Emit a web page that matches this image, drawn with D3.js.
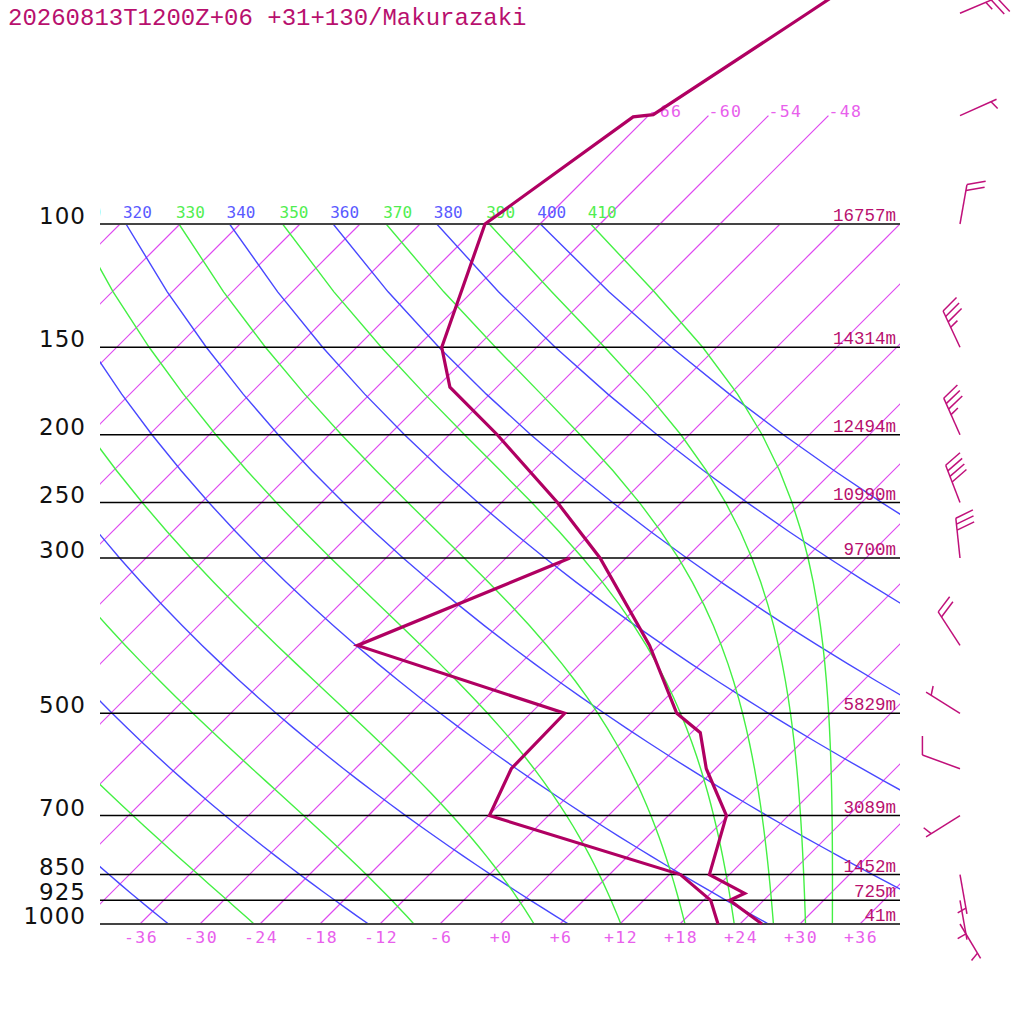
<!DOCTYPE html>
<html>
<head>
<meta charset="utf-8">
<script src="https://cdn.jsdelivr.net/npm/d3@7"></script>
<style>
body { margin: 0; background: #fff; }
svg { display: block; }
</style>
</head>
<body>
<svg id="chart" width="1024" height="1024"></svg>
<script>
var title = "20260813T1200Z+06 +31+130/Makurazaki";

// standard levels with their heights
var pressureLevels = [100, 150, 200, 250, 300, 500, 700, 850, 925, 1000];
var heightLabels = ["16757m", "14314m", "12494m", "10990m", "9700m", "5829m", "3089m", "1452m", "725m", "41m"];

// background lines
var isotherms = [-108, -102, -96, -90, -84, -78, -72, -66, -60, -54, -48, -42, -36, -30, -24, -18, -12, -6, 0, 6, 12, 18, 24, 30, 36];
var upperIsotherms = [-66, -60, -54, -48];
var bottomTicks = [-36, -30, -24, -18, -12, -6, 0, 6, 12, 18, 24, 30, 36];
var dryAdiabats = [240, 260, 280, 300, 320, 340, 360, 380, 400];
var moistAdiabats = [250, 270, 290, 310, 330, 350, 370, 390, 410];

// temperature sounding
var tempPressure = [1000, 925, 904, 850, 700, 600, 533, 500, 400, 300, 250, 200, 171, 150, 100, 70.3, 69.8, 50, 43];
var tempValues = [26.2, 20.6, 21.4, 16.0, 11.8, 5.1, 0.9, -3.4, -12.9, -26.6, -36.4, -49.2, -58.7, -63.5, -71.5, -67.4, -65.6, -60.3, -58.0];

// dew point sounding
var dewPressure = [1000, 925, 850, 700, 600, 500, 400, 300];
var dewValues = [21.8, 18.7, 13.1, -11.9, -14.4, -14.6, -42.1, -29.6];

// winds (direction in degrees, speed in knots)
var windPressure = [50, 70, 100, 150, 200, 250, 300, 400, 500, 600, 700, 850, 925, 1000];
var windDir = [67, 66, 10, 335, 336, 339, 354, 327, 302, 290, 238, 170, 170, 149];
var windSpeed = [25, 5, 20, 35, 35, 40, 30, 20, 5, 10, 5, 5, 5, 5];

var isoColor = "rgb(222,72,240)";
var isoLabelColor = "rgb(232,96,236)";

var svg = d3.select("#chart");

var y = d3.scaleLog().domain([1000, 100]).range([924, 224]);
var x = d3.scaleLinear().domain([-40, 40]).range([100, 900]);

function skewX(t, p) {
    return x(t) + (y(1000) - y(p));
}

var linePath = d3.line()
    .x(function (d) { return skewX(d.t, d.p); })
    .y(function (d) { return y(d.p); });

// pressure steps used for drawing the curved lines
var steps = d3.range(1000, 99, -25);

function dryT(theta, p) {
    return theta * Math.pow(p / 1000, 0.2857) - 273.15;
}

function thetaESat(tk, p) {
    var tc = tk - 273.15;
    var es = 6.112 * Math.exp(17.67 * tc / (tc + 243.5));
    var r = 622 * es / (p - es);
    return tk * Math.pow(1000 / p, 0.2854 * (1 - 0.00028 * r)) *
        Math.exp((3.376 / tk - 0.00254) * r * (1 + 0.00081 * r));
}

function moistT(thetaE, p) {
    var lo = 120, hi = 340;
    for (var i = 0; i < 50; i++) {
        var mid = (lo + hi) / 2;
        if (thetaESat(mid, p) > thetaE) hi = mid; else lo = mid;
    }
    return (lo + hi) / 2 - 273.15;
}

var defs = svg.append("defs");
defs.append("clipPath").attr("id", "plot")
    .append("rect").attr("x", 100).attr("y", 224).attr("width", 800).attr("height", 700);
defs.append("clipPath").attr("id", "labels")
    .append("rect").attr("x", 100).attr("y", 0).attr("width", 800).attr("height", 924);

var grid = svg.append("g").attr("clip-path", "url(#plot)");

// isotherms, drawn as plain lines
grid.selectAll("line.isotherm")
    .data(isotherms)
    .enter().append("line")
    .attr("class", "isotherm")
    .attr("x1", function (t) { return skewX(t, 1000); })
    .attr("y1", y(1000))
    .attr("x2", function (t) { return skewX(t, 100); })
    .attr("y2", y(100))
    .style("stroke", isoColor)
    .style("stroke-width", 1.2);

// dry adiabats
grid.selectAll("path.dry")
    .data(dryAdiabats)
    .enter().append("path")
    .attr("class", "dry")
    .attr("fill", "none")
    .attr("stroke", "#4848ff")
    .attr("stroke-width", 1.4)
    .attr("d", function (th) {
        return linePath(steps.map(function (p) { return { t: dryT(th, p), p: p }; }));
    });

// moist adiabats
grid.selectAll("path.moist")
    .data(moistAdiabats)
    .enter().append("path")
    .attr("class", "moist")
    .attr("fill", "none")
    .attr("stroke", "#44f044")
    .attr("stroke-width", 1.4)
    .attr("d", function (th) {
        return linePath(steps.map(function (p) { return { t: moistT(th, p), p: p }; }));
    });

// isotherms continued above 100 hPa
svg.append("g").selectAll("line")
    .data(upperIsotherms)
    .enter().append("line")
    .attr("x1", function (t) { return skewX(t, 100); })
    .attr("y1", y(100))
    .attr("x2", function (t) { return skewX(t, 70); })
    .attr("y2", y(70))
    .style("stroke", isoColor)
    .style("stroke-width", 1.2);

svg.append("g").selectAll("text")
    .data(upperIsotherms)
    .enter().append("text")
    .attr("x", function (t) { return skewX(t, 70); })
    .attr("y", y(70) + 1)
    .attr("font-family", "DejaVu Sans Mono")
    .attr("font-size", 16.5)
    .attr("letter-spacing", 1.4)
    .attr("fill", isoLabelColor)
    .text(function (t) { return t < 0 ? "-" + Math.abs(t) : "+" + t; });

// pressure lines
svg.append("g").selectAll("line")
    .data(pressureLevels)
    .enter().append("line")
    .attr("x1", 100).attr("x2", 900)
    .attr("y1", function (p) { return y(p); })
    .attr("y2", function (p) { return y(p); })
    .attr("stroke", function (p) { return p == 100 || p == 1000 ? "#444" : "#000"; })
    .attr("stroke-width", function (p) { return p == 100 || p == 1000 ? 2 : 1.5; });

// adiabat labels at 100 hPa (only those reaching into the frame)
var thetaLabels = dryAdiabats.map(function (th) { return { th: th, t: dryT(th, 100), c: "#5a5aff" }; })
    .concat(moistAdiabats.map(function (th) { return { th: th, t: moistT(th, 100), c: "#50ee50" }; }))
    .filter(function (d) { return skewX(d.t, 100) > 60; });

svg.append("g").attr("clip-path", "url(#labels)")
    .selectAll("text")
    .data(thetaLabels)
    .enter().append("text")
    .attr("x", function (d) { return skewX(d.t, 100) - 3; })
    .attr("y", y(100) - 6)
    .attr("font-family", "DejaVu Sans Mono")
    .attr("font-size", 16)
    .attr("fill", function (d) { return d.c; })
    .text(function (d) { return d.th; });

// pressure labels
svg.append("g").selectAll("text")
    .data(pressureLevels)
    .enter().append("text")
    .attr("x", 86)
    .attr("y", function (p) { return y(p); })
    .attr("text-anchor", "end")
    .attr("font-family", "DejaVu Sans")
    .attr("font-size", 23)
    .attr("letter-spacing", 1)
    .attr("fill", "#111")
    .text(function (p) { return p; });

// height labels
svg.append("g").selectAll("text")
    .data(pressureLevels)
    .enter().append("text")
    .attr("x", 896)
    .attr("y", function (p) { return y(p) - 3; })
    .attr("text-anchor", "end")
    .attr("font-family", "Liberation Mono")
    .attr("font-size", 17.5)
    .attr("fill", "#b8106e")
    .text(function (p, i) { return heightLabels[i]; });

// temperature tick labels
svg.append("g").selectAll("text")
    .data(bottomTicks)
    .enter().append("text")
    .attr("x", function (t) { return x(t) + 1; })
    .attr("y", 943)
    .attr("text-anchor", "middle")
    .attr("font-family", "DejaVu Sans Mono")
    .attr("font-size", 16.5)
    .attr("letter-spacing", 1.4)
    .attr("fill", isoLabelColor)
    .text(function (t) { return t < 0 ? "-" + Math.abs(t) : "+" + t; });

// soundings
var tempData = tempPressure.map(function (p, i) { return { p: p, t: tempValues[i] }; });
var dewData = dewPressure.map(function (p, i) { return { p: p, t: dewValues[i] }; });

svg.append("path")
    .datum(dewData)
    .attr("fill", "none")
    .attr("stroke", "#b00062")
    .attr("stroke-width", 3.2)
    .attr("d", linePath);

svg.append("path")
    .datum(tempData)
    .attr("fill", "none")
    .attr("stroke", "#b00062")
    .attr("stroke-width", 3.2)
    .attr("d", linePath);

// wind barbs
function barbLines(cx, cy, dir, spd) {
    var rad = dir * Math.PI / 180;
    var ux = Math.sin(rad), uy = -Math.cos(rad);
    var a = 70 * Math.PI / 180;
    var bx = ux * Math.cos(a) - uy * Math.sin(a);
    var by = ux * Math.sin(a) + uy * Math.cos(a);
    var staff = 40, gap = 6, full = 19;
    var tipX = cx + ux * staff, tipY = cy + uy * staff;
    var out = [[cx, cy, tipX, tipY]];
    var n10 = Math.floor(spd / 10);
    var n5 = Math.round((spd - n10 * 10) / 5);
    var i;
    for (i = 0; i < n10; i++) {
        var px = tipX - ux * gap * i, py = tipY - uy * gap * i;
        out.push([px, py, px + bx * full, py + by * full]);
    }
    if (n5 > 0) {
        var k = n10 == 0 ? 1 : n10;
        var hx = tipX - ux * gap * k, hy = tipY - uy * gap * k;
        out.push([hx, hy, hx + bx * full / 2, hy + by * full / 2]);
    }
    return out;
}

var barbs = svg.append("g");
windPressure.forEach(function (p, i) {
    barbs.selectAll(null)
        .data(barbLines(960, y(p), windDir[i], windSpeed[i]))
        .enter().append("line")
        .attr("x1", function (d) { return d[0]; })
        .attr("y1", function (d) { return d[1]; })
        .attr("x2", function (d) { return d[2]; })
        .attr("y2", function (d) { return d[3]; })
        .attr("stroke", "#c0107a")
        .attr("stroke-width", 1.5);
});

// title
svg.append("text")
    .attr("x", 8)
    .attr("y", 25)
    .attr("font-family", "Liberation Mono")
    .attr("font-size", 24)
    .attr("fill", "#b8106e")
    .text(title);
</script>
</body>
</html>
